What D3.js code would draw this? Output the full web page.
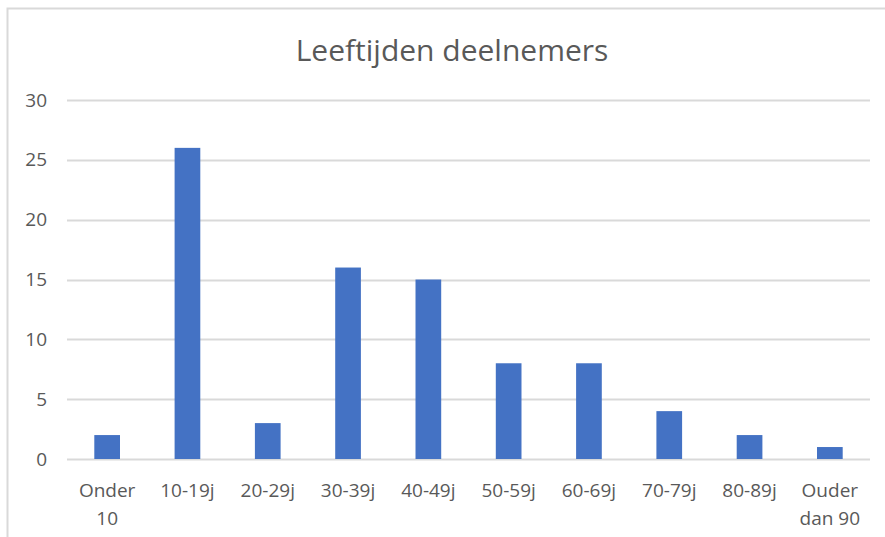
<!DOCTYPE html>
<html>
	<head>
		<script src="https://d3js.org/d3.v7.min.js"></script>
		<style>
			body { margin: 0; background: #fff; }
		</style>
	</head>
	<body>
		<script>
			var categories = ["Onder 10", "10-19j", "20-29j", "30-39j", "40-49j", "50-59j", "60-69j", "70-79j", "80-89j", "Ouder dan 90"];
			var values = [2, 26, 3, 16, 15, 8, 8, 4, 2, 1];
			var y_ticks = [0, 5, 10, 15, 20, 25, 30];
			var title = "Leeftijden deelnemers";

			var width = 885;
			var height = 537;
			var font = "'Open Sans', sans-serif";

			var svg = d3.select('body').append('svg')
				.attr('width', width)
				.attr('height', height);

			// chart border (only top and left visible in the crop)
			svg.append('path')
				.attr('d', 'M7.5,' + height + ' L7.5,8.5 L' + width + ',8.5')
				.attr('fill', 'none')
				.attr('stroke', '#d9d9d9')
				.attr('stroke-width', 2);

			var x = d3.scaleBand()
				.domain(categories)
				.range([67, 870])
				.paddingInner(0.68)
				.paddingOuter(0.34);

			var y = d3.scaleLinear()
				.domain([0, 30])
				.range([459, 100]);

			// gridlines
			svg.append('g')
				.selectAll('line')
				.data(y_ticks)
				.enter()
				.append('line')
				.attr('x1', 67)
				.attr('x2', 870)
				.attr('y1', function (d) { return Math.round(y(d)) + 0.5; })
				.attr('y2', function (d) { return Math.round(y(d)) + 0.5; })
				.attr('stroke', '#d9d9d9')
				.attr('stroke-width', 2);

			// bars
			svg.append('g')
				.selectAll('rect')
				.data(values)
				.enter()
				.append('rect')
				.attr('x', function (d, i) { return x(categories[i]); })
				.attr('width', x.bandwidth())
				.attr('y', function (d) { return y(d); })
				.attr('height', function (d) { return y(0) - y(d); })
				.attr('fill', '#4472c4');

			// y axis labels
			var yAxis = d3.axisLeft(y).tickValues(y_ticks).tickSize(0).tickPadding(0);
			var ya = svg.append('g')
				.attr('transform', 'translate(47,0)')
				.call(yAxis);
			ya.select('.domain').remove();
			ya.selectAll('text')
				.attr('fill', '#595959')
				.style('font-family', font)
				.style('font-size', '19px');

			// x axis labels (wrapped)
			var xa = svg.append('g');
			xa.selectAll('text')
				.data(categories)
				.enter()
				.append('text')
				.attr('x', function (d) { return x(d) + x.bandwidth() / 2; })
				.attr('y', 497)
				.attr('text-anchor', 'middle')
				.attr('fill', '#595959')
				.style('font-family', font)
				.style('font-size', '19px')
				.each(function (d) {
					var parts = d.split(' ');
					var lines = parts.length > 2 ? [parts[0], parts.slice(1).join(' ')] : parts;
					var t = d3.select(this);
					lines.forEach(function (l, k) {
						t.append('tspan')
							.attr('x', x(d) + x.bandwidth() / 2)
							.attr('dy', k == 0 ? 0 : 28)
							.text(l);
					});
				});

			svg.append('text')
				.attr('x', 452)
				.attr('y', 61)
				.attr('text-anchor', 'middle')
				.attr('fill', '#595959')
				.style('font-family', font)
				.style('font-size', '30px')
				.text(title);
		</script>
	</body>
</html>
